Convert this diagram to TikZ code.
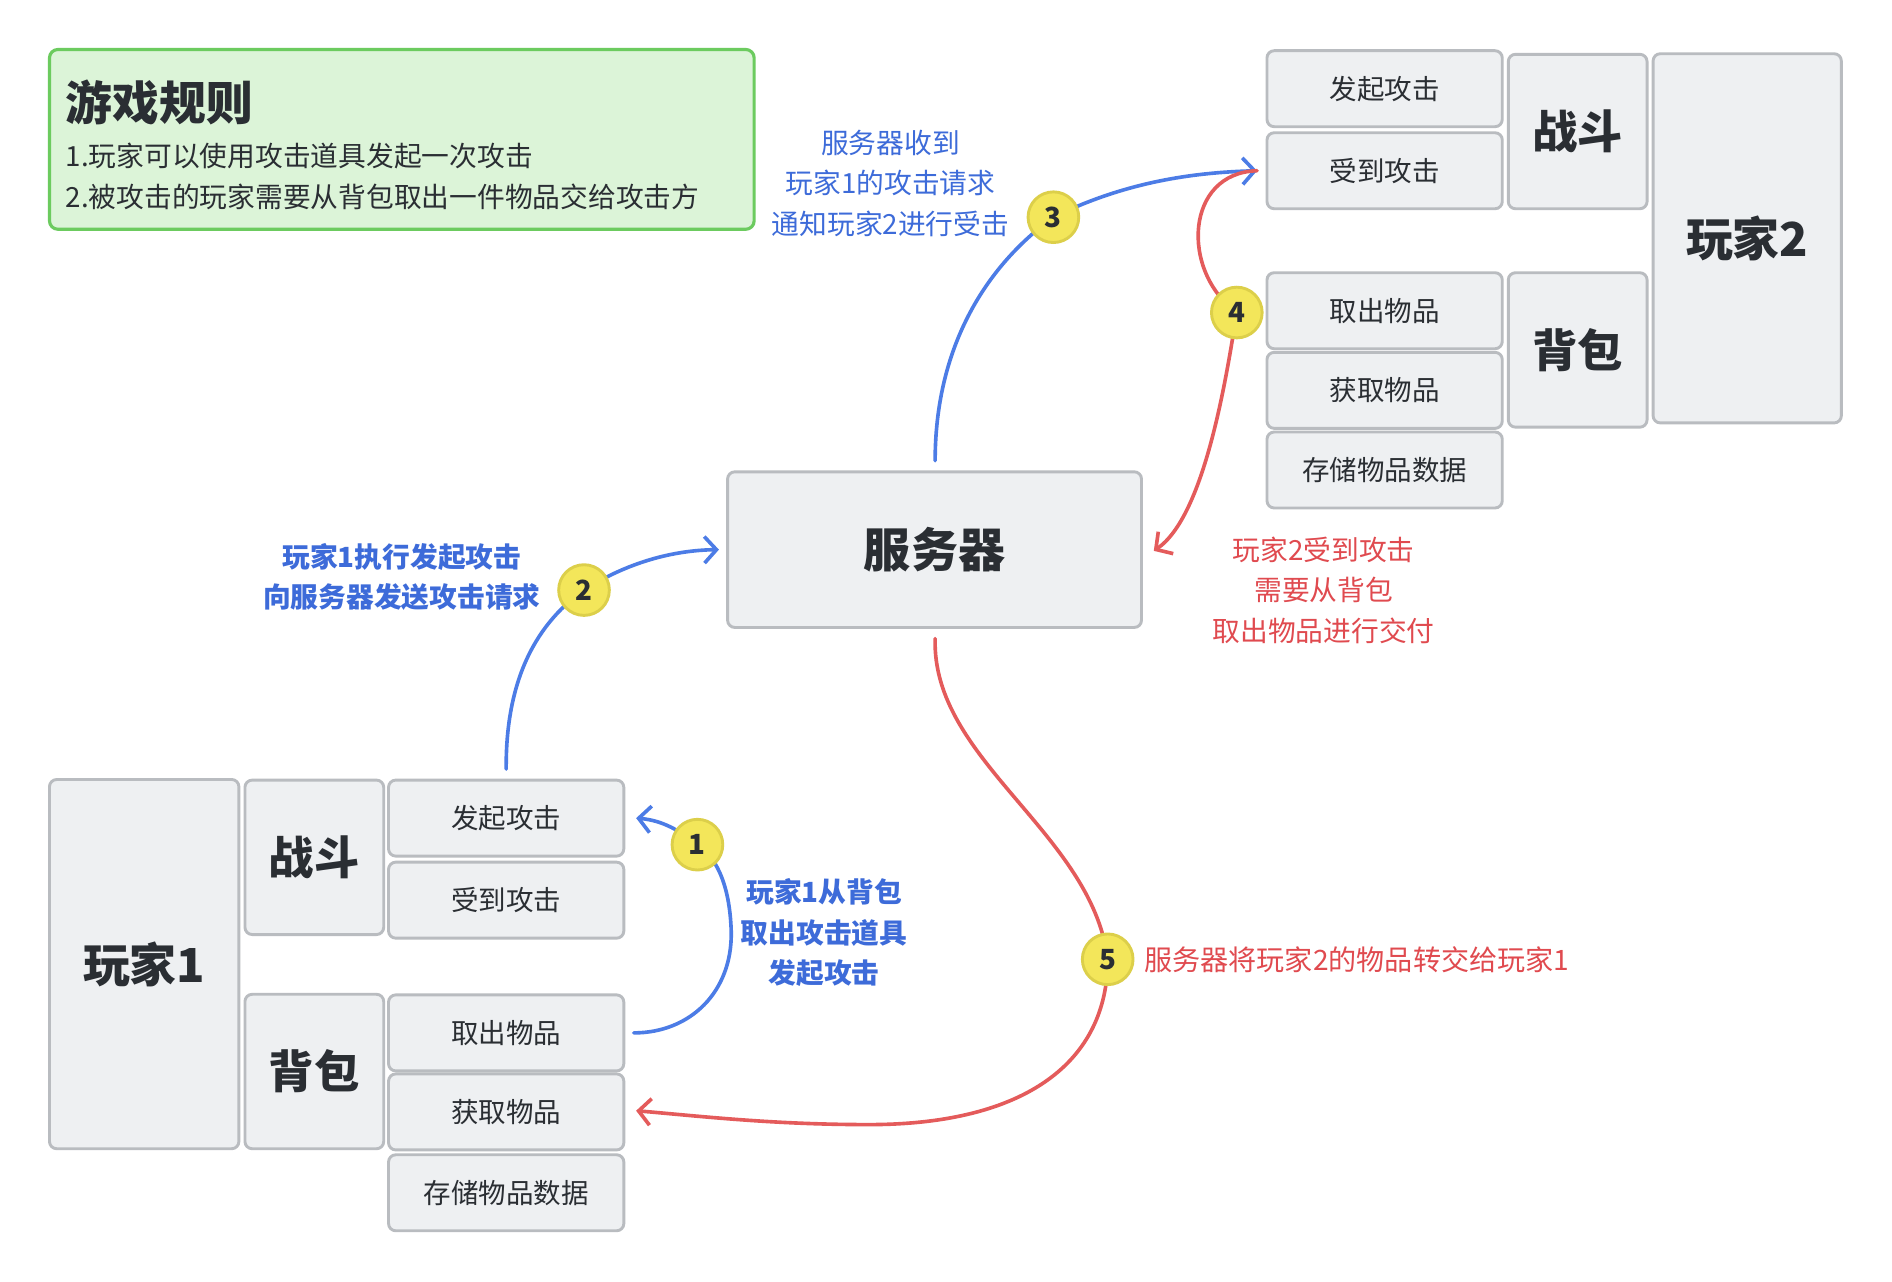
\documentclass[tikz,border=0pt]{standalone}
\usepackage{fontspec}
\setmainfont{Noto Sans CJK SC}
\usetikzlibrary{arrows.meta,calc}
\definecolor{boxfill}{HTML}{EEF0F2}
\definecolor{boxline}{HTML}{B9BCC0}
\definecolor{ink}{HTML}{2A2E33}
\definecolor{rulefill}{HTML}{DCF4D8}
\definecolor{ruleline}{HTML}{6CCB5F}
\definecolor{bline}{HTML}{4C7CE6}
\definecolor{btext}{HTML}{3D6BD9}
\definecolor{rline}{HTML}{E45B5B}
\definecolor{rtext}{HTML}{E04A4F}
\definecolor{cfill}{HTML}{F3E65A}
\definecolor{cline}{HTML}{DCCF4A}
\tikzset{
  base/.style={draw=boxline, fill=boxfill, line width=1.2pt, rounded corners=3pt, inner sep=0pt, text=ink},
  item/.style={base, minimum width=97.5pt, minimum height=31.5pt, font=\fontsize{11.4pt}{13pt}\selectfont},
  group/.style={base, minimum width=57.5pt, minimum height=64pt, font=\fontsize{18.8pt}{22pt}\selectfont\bfseries},
  player/.style={base, minimum width=78pt, minimum height=153pt, font=\fontsize{19.4pt}{22pt}\selectfont\bfseries},
  conn/.style={line width=1.5pt, line cap=round, -{Straight Barb[length=5pt,width=11pt,line width=1.5pt]}},
  bconn/.style={conn, draw=bline},
  rconn/.style={conn, draw=rline},
  stepnum/.style={circle, draw=cline, fill=cfill, line width=1.2pt, minimum size=21pt, inner sep=0pt, text=ink, font=\fontsize{11.5pt}{12pt}\selectfont\bfseries},
  blab/.style={text=btext, align=center, font=\fontsize{11.5pt}{16.75pt}\selectfont},
  rlab/.style={text=rtext, align=center, font=\fontsize{11.5pt}{16.75pt}\selectfont},
}
\begin{document}
\begin{tikzpicture}[x=0.5pt, y=-0.5pt]
\useasboundingbox (0,0) rectangle (1568,1062);
\fill[white] (0,0) rectangle (1568,1062);

% rules box
\node[draw=ruleline, fill=rulefill, line width=1.3pt, rounded corners=3.5pt, minimum width=292pt, minimum height=74.5pt] (rules) at (333,115.5) {};
\node[anchor=west, text=ink, font=\fontsize{19.4pt}{22pt}\selectfont\bfseries, inner sep=0pt] (rtitle) at (54,85) {游戏规则};
\node[anchor=west, text=ink, font=\fontsize{11.5pt}{13pt}\selectfont, inner sep=0pt] (rl1) at (54,129) {1.玩家可以使用攻击道具发起一次攻击};
\node[anchor=west, text=ink, font=\fontsize{11.5pt}{13pt}\selectfont, inner sep=0pt] (rl2) at (54,163) {2.被攻击的玩家需要从背包取出一件物品交给攻击方};

% player 2
\node[item] (a2) at (1147.5,73.5) {发起攻击};
\node[item] (b2) at (1147.5,141.5) {受到攻击};
\node[group] (f2) at (1307.5,109) {战斗};
\node[player] (p2) at (1448,197.5) {玩家2};
\node[item] (q2) at (1147.5,257.5) {取出物品};
\node[item] (g2) at (1147.5,323.5) {获取物品};
\node[item] (s2) at (1147.5,389.5) {存储物品数据};
\node[group] (k2) at (1307.5,290) {背包};

% server
\node[base, minimum width=171.5pt, minimum height=64.5pt, font=\fontsize{19.5pt}{22pt}\selectfont\bfseries] (srv) at (774.5,455.5) {服务器};

% player 1
\node[player, minimum width=78.5pt] (p1) at (119.5,799) {玩家1};
\node[group] (f1) at (260.5,710.5) {战斗};
\node[item] (a1) at (419.5,678) {发起攻击};
\node[item] (b1) at (419.5,746) {受到攻击};
\node[group] (k1) at (260.5,888) {背包};
\node[item] (q1) at (419.5,856) {取出物品};
\node[item] (g1) at (419.5,921.5) {获取物品};
\node[item] (s1) at (419.5,988.5) {存储物品数据};

% step positions
\coordinate (n1) at (578,700);
\coordinate (n2) at (484,489);
\coordinate (n3) at (873,180);
\coordinate (n4) at (1025,259);
\coordinate (n5) at (918,795);

% connectors
\draw[bconn] ($(q1.east)+(7,0)$) .. controls (572,856) and (607,822) .. (606,772)
  .. controls (605,738) and (596,712) .. (n1)
  .. controls (564,689) and (550,680) .. ($(a1.east)+(9,0)$);
\draw[bconn] ($(a1.north)+(0,-8)$) .. controls (419,570) and (440,520) .. (n2)
  .. controls (520,466) and (558,456) .. ($(srv.west)+(-6,0)$);
\draw[bconn] ($(srv.north)+(0.5,-8)$) .. controls (775,290) and (815,222) .. (n3)
  .. controls (930,152) and (985,143) .. ($(b2.west)+(-7,0)$);
\draw[rconn] ($(b2.west)+(-7,0)$) .. controls (982,143) and (978,225) .. (n4)
  .. controls (1016,315) and (998,428) .. ($(srv.east)+(9,1)$);
\draw[rconn] ($(srv.south)+(0.5,8)$) .. controls (772,630) and (905,690) .. (n5)
  .. controls (918,880) and (850,932) .. (720,932)
  .. controls (640,932) and (580,925) .. ($(g1.east)+(9,-1)$);

% step circles
\node[stepnum] (c1) at (n1) {1};
\node[stepnum] (c2) at (n2) {2};
\node[stepnum] (c3) at (n3) {3};
\node[stepnum] (c4) at (n4) {4};
\node[stepnum] (c5) at (n5) {5};

% labels
\node[blab] (l3) at (738,152) {服务器收到\\玩家1的攻击请求\\通知玩家2进行受击};
\node[blab, font=\fontsize{11.5pt}{16.75pt}\selectfont\bfseries] (l2) at (333,478) {玩家1执行发起攻击\\向服务器发送攻击请求};
\node[rlab] (l4) at (1097,489) {玩家2受到攻击\\需要从背包\\取出物品进行交付};
\node[blab, font=\fontsize{11.5pt}{16.75pt}\selectfont\bfseries] (l1) at (683,773) {玩家1从背包\\取出攻击道具\\发起攻击};
\node[rlab, anchor=west, inner sep=0pt, font=\fontsize{11.65pt}{14pt}\selectfont] (l5) at (948,795) {服务器将玩家2的物品转交给玩家1};
\end{tikzpicture}
\end{document}
